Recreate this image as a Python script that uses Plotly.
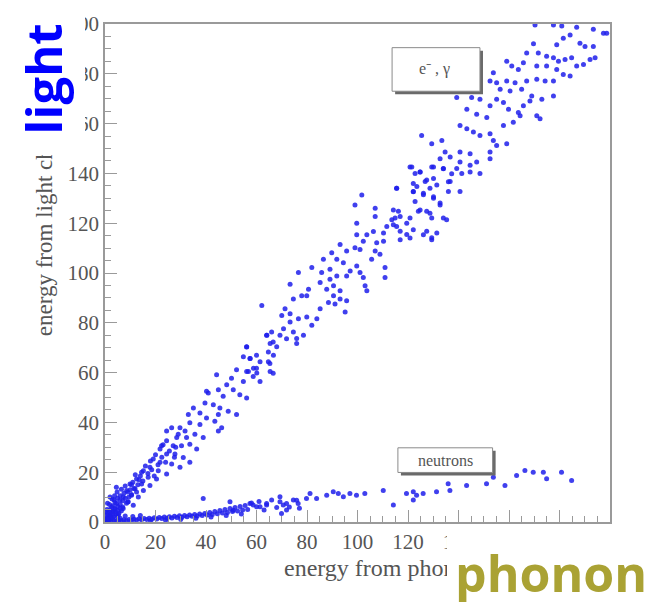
import plotly.graph_objects as go

# (phonon energy, light energy) pairs for the electron / gamma band
egamma_points = [
    # upper part of the band
    (170.3, 199.6), (177.6, 199.6), (180.9, 199.2), (186.8, 198.7), (193.4, 197.9), (197.4, 196.3),
    (198.7, 196.3), (184.2, 195.6), (181.5, 194.3), (178.9, 191.7), (188.1, 192.3), (190.1, 191.0),
    (193.4, 191.0), (169.7, 192.1), (167.0, 188.4), (171.6, 188.4), (174.9, 187.0), (177.6, 186.4),
    (179.6, 185.0), (182.2, 185.7), (184.8, 186.4), (189.5, 183.7), (192.1, 185.7), (194.1, 186.4),
    (159.1, 185.0), (161.1, 183.1), (163.7, 181.7), (165.7, 184.4), (171.0, 183.1), (174.9, 183.1),
    (178.9, 181.7), (181.5, 179.7), (184.2, 179.1), (186.8, 183.1), (153.8, 180.4), (152.5, 177.1),
    (155.1, 176.4), (159.1, 177.1), (162.4, 176.4), (167.0, 177.1), (171.0, 177.8), (174.3, 177.1),
    (177.6, 177.1), (156.5, 173.8), (160.4, 173.1), (165.0, 173.8), (169.0, 171.1), (173.0, 169.8),
    (177.6, 171.1), (139.3, 170.5), (145.2, 170.5), (148.5, 169.8), (155.1, 169.8), (157.8, 168.5),
    (152.5, 167.2), (159.8, 165.8), (163.7, 164.5), (165.7, 167.2), (168.3, 169.1), (171.0, 163.2),
    (172.3, 161.9), (143.3, 165.8), (147.2, 163.8), (151.2, 162.5), (157.8, 159.2), (161.7, 160.5),
    (164.4, 163.2), (140.6, 159.2), (143.3, 157.9), (145.9, 156.6), (148.5, 155.2), (152.5, 155.9),
    (153.8, 153.2), (155.1, 151.2), (159.1, 151.9), (125.4, 155.2), (129.4, 151.9), (133.4, 153.2),
    (134.7, 148.6), (132.7, 145.9), (136.7, 146.6), (140.6, 148.6), (140.6, 144.6), (144.6, 147.9),
    (144.6, 143.3), (147.2, 144.6), (148.5, 140.0), (152.5, 148.6), (152.5, 145.9), (139.3, 142.0),
    (141.3, 140.0), (144.6, 140.6), (120.8, 142.6), (122.8, 140.0), (124.8, 140.6), (129.4, 142.6),
    (134.0, 142.0), (130.1, 138.0), (136.7, 136.7), (126.8, 136.7), (128.7, 134.0), (122.1, 132.7),
    (123.5, 134.7), (126.1, 131.4), (130.1, 130.0), (132.7, 128.1), (122.8, 128.7), (124.1, 124.8),
    (127.4, 124.8), (129.4, 122.1), (134.0, 122.1), (120.8, 122.1), (116.2, 124.8), (114.9, 122.1),
    (114.2, 119.4), (116.9, 116.8), (119.5, 115.5), (127.4, 116.8), (129.4, 114.2), (136.0, 132.7),
    (140.6, 132.7), (115.5, 134.0),
    # middle part of the band
    (121.5, 142.6), (124.8, 140.6), (130.1, 142.6), (134.0, 141.9), (137.3, 139.9), (122.1, 135.9),
    (127.4, 137.3), (131.4, 135.3), (136.0, 136.6), (115.5, 134.0), (122.1, 132.6), (126.1, 132.0),
    (130.1, 130.6), (132.7, 127.3), (135.3, 121.4), (124.8, 125.3), (128.7, 124.0), (114.2, 125.3),
    (116.9, 122.7), (113.6, 121.4), (119.5, 120.0), (115.5, 118.7), (111.6, 118.7), (122.1, 117.4),
    (126.1, 115.4), (129.4, 113.4), (131.4, 116.1), (120.8, 114.1), (116.9, 113.4), (110.3, 116.1),
    (106.3, 116.7), (103.7, 115.4), (102.3, 112.8), (107.6, 112.1), (110.3, 112.8), (107.0, 108.8),
    (105.6, 105.5), (108.9, 107.5), (99.7, 120.0), (101.7, 131.3), (99.0, 127.3), (107.0, 126.0),
    (107.0, 122.7), (99.7, 115.4), (93.1, 111.4), (95.7, 108.8), (99.0, 110.1), (101.0, 109.4),
    (89.8, 108.1), (91.8, 105.5), (86.5, 105.5), (89.1, 101.5), (94.4, 104.1), (97.1, 100.8),
    (99.7, 102.8), (101.0, 100.2), (102.3, 98.2), (103.0, 94.9), (103.7, 92.9), (110.9, 102.2),
    (110.9, 98.2), (85.8, 100.2), (81.9, 102.2), (89.1, 97.5), (91.8, 98.8), (95.7, 98.8),
    (76.6, 100.2), (73.3, 95.5), (80.6, 93.5), (85.2, 96.2), (87.8, 93.5), (90.5, 94.9),
    (93.1, 92.9), (90.5, 90.9), (93.1, 89.6), (91.1, 87.6), (88.5, 88.2), (85.2, 85.6),
    (95.1, 84.3), (95.7, 88.9), (79.9, 90.9), (77.9, 90.9), (74.6, 89.6), (71.3, 85.6),
    (70.0, 82.9), (73.3, 83.6), (76.6, 81.6), (79.9, 82.3), (81.9, 79.0), (83.9, 81.6),
    (73.3, 80.3), (70.7, 77.6), (74.6, 76.3), (78.6, 75.0), (75.9, 73.7), (69.3, 75.0),
    (66.0, 76.3), (64.1, 75.0), (65.4, 71.7), (68.0, 70.4), (66.7, 67.0), (64.7, 64.4),
    (61.4, 64.4), (57.5, 65.7), (56.1, 70.4), (58.8, 61.7), (56.8, 60.4), (60.1, 59.8),
    (65.4, 60.4), (62.1, 86.9),
    # lower part of the band
    (64.0, 75.0), (66.6, 72.3), (71.9, 73.6), (75.9, 71.7), (56.1, 70.3), (60.0, 67.0),
    (64.7, 68.3), (54.8, 66.4), (57.4, 65.7), (65.3, 63.7), (66.6, 59.7), (60.0, 61.7),
    (56.1, 60.4), (52.1, 61.1), (58.7, 58.4), (61.4, 56.4), (54.8, 56.4), (50.1, 57.7),
    (44.2, 59.1), (48.2, 55.1), (50.8, 53.1), (53.4, 51.1), (56.1, 49.8), (46.8, 50.5),
    (44.9, 53.1), (40.9, 51.8), (39.6, 47.8), (42.9, 47.1), (45.5, 45.8), (48.8, 44.5),
    (52.1, 43.2), (37.6, 43.8), (35.0, 45.8), (40.2, 41.8), (43.5, 40.5), (46.2, 37.9),
    (37.6, 39.2), (33.6, 39.9), (31.7, 36.5), (29.7, 37.9), (26.4, 37.9), (28.4, 33.9),
    (32.3, 33.9), (35.6, 35.2), (38.9, 33.9), (44.9, 36.5), (24.4, 32.6), (27.0, 30.6),
    (30.3, 30.6), (33.6, 31.2), (36.3, 29.3), (21.8, 29.3), (24.4, 27.3), (27.7, 27.3),
    (31.0, 25.9), (33.6, 24.0), (29.7, 22.0), (26.4, 23.3), (19.1, 25.3), (21.8, 24.0),
    (17.8, 22.0), (21.1, 20.6), (24.4, 19.3), (15.2, 20.6), (17.1, 18.0), (20.4, 17.3),
    (12.5, 17.3), (14.5, 15.3), (17.8, 14.7), (9.9, 15.3), (11.9, 13.4), (15.2, 12.7),
    (8.6, 12.7), (10.5, 10.7), (13.2, 10.0), (7.2, 10.0), (5.9, 8.7), (9.2, 8.1),
    (11.2, 6.7), (4.6, 7.4), (3.9, 5.4), (7.2, 5.4), (3.3, 4.1), (2.0, 2.8),
    (5.3, 2.8), (1.3, 1.4), (0.5, 0.5), (0.3, 4.1), (29.0, 35.2), (24.4, 36.5),
    (22.4, 30.6), (40.2, 52.5), (33.0, 43.2), (44.9, 43.2),
    # dense cluster close to the origin
    (0.5, 1.0), (1.0, 2.0), (1.5, 0.8), (2.0, 3.0), (2.5, 1.5), (3.0, 4.2), (3.5, 2.2), (4.0, 5.0),
    (4.5, 3.0), (5.0, 6.2), (5.5, 3.5), (6.0, 7.0), (6.5, 4.5), (7.0, 8.5), (1.0, 3.5), (2.0, 5.0),
    (3.0, 6.5), (4.0, 7.8), (0.6, 2.6), (1.6, 4.2), (2.6, 6.0), (3.6, 8.8), (5.0, 9.5), (6.0, 10.5),
    (7.5, 11.5), (8.0, 9.5), (9.0, 12.0), (0.3, 0.3), (1.2, 1.2), (2.2, 2.2), (3.2, 3.2), (4.2, 4.0),
    (5.2, 4.6), (0.8, 5.0), (1.8, 7.0), (2.8, 9.2), (3.8, 10.5), (4.8, 12.0), (6.5, 13.2), (8.0, 14.5),
    (10.0, 13.0), (11.0, 16.0), (12.0, 19.0), (14.0, 18.5), (16.0, 22.5), (13.0, 15.0), (8.5, 7.5),
    (9.5, 10.0), (10.5, 11.0), (11.5, 13.5), (12.5, 12.0), (7.0, 6.0), (6.0, 5.5), (9.0, 8.0),
    (13.5, 17.0), (15.0, 16.5), (17.0, 19.5), (18.5, 21.0), (19.5, 18.5), (21.0, 23.0), (22.5, 26.0),
    (24.0, 24.0), (25.5, 28.5), (27.5, 26.0), (20.0, 27.0), (23.0, 31.0), (28.0, 30.0), (18.0, 24.5),
    (14.5, 20.0), (10.5, 15.0), (2.0, 10.0), (4.5, 14.0), (1.0, 7.5),
]

# (phonon energy, light energy) pairs for the neutron band
neutron_points = [
    (58.7, 6.8), (61.4, 6.1), (64.0, 6.8), (69.3, 8.1), (70.6, 6.8), (74.6, 8.8), (76.5, 7.4),
    (79.8, 9.4), (83.8, 9.4), (87.8, 10.7), (90.4, 12.1), (92.4, 11.4), (94.4, 10.1), (97.0, 11.4),
    (99.6, 10.7), (102.9, 11.4), (110.2, 12.7), (114.2, 6.8), (119.4, 11.4), (122.1, 12.1),
    (122.1, 8.8), (123.4, 10.7), (131.3, 12.1), (135.9, 15.4), (136.6, 12.7), (143.2, 14.7),
    (151.1, 15.4), (153.8, 18.0), (158.4, 14.7), (163.0, 18.7), (166.3, 20.7), (169.6, 20.0),
    (173.6, 20.0), (174.9, 17.4), (180.8, 20.0), (184.8, 16.7), (126.0, 11.4), (81.2, 11.4),
    (71.9, 4.8),
    (38.9, 9.4), (49.5, 8.1), (50.8, 4.7), (57.4, 7.4), (60.0, 6.1), (64.0, 7.4), (69.3, 10.1),
    (71.9, 7.4), (69.9, 3.4), (75.9, 8.7),
    (0.5, 0.2), (1.5, 0.4), (2.5, 0.3), (3.5, 0.6), (4.5, 0.4), (5.5, 0.7), (6.5, 0.5), (7.5, 0.9),
    (8.5, 0.6), (9.5, 1.0), (10.5, 0.7), (11.5, 1.1), (12.5, 0.8), (13.5, 1.3), (14.5, 0.9),
    (15.5, 1.4), (16.5, 1.0), (17.5, 1.5), (18.5, 1.1), (19.5, 1.7), (20.5, 1.2), (21.5, 1.8),
    (22.5, 1.4), (23.5, 2.0), (24.5, 1.5), (25.5, 2.1), (26.5, 1.6), (27.5, 2.3), (28.5, 1.8),
    (29.5, 2.5), (30.5, 1.9), (31.5, 2.6), (32.5, 2.1), (33.5, 2.8), (34.5, 2.3), (35.5, 3.0),
    (36.5, 2.4), (37.5, 3.2), (38.5, 2.6), (39.5, 3.4), (40.5, 2.8), (41.5, 3.8), (42.5, 3.0),
    (43.5, 4.2), (44.5, 3.3), (45.5, 4.6), (46.5, 3.6), (47.5, 5.0), (48.5, 3.8), (49.5, 5.4),
    (50.5, 4.2), (51.5, 5.8), (52.5, 4.4), (53.5, 6.2), (54.5, 4.8), (55.5, 6.6), (56.5, 5.0),
    (58.0, 7.6), (61.0, 8.2), (63.0, 4.8), (66.0, 8.8), (68.0, 5.8), (73.0, 6.0), (77.0, 5.5),
    (5.0, 2.0), (8.0, 2.4), (11.0, 2.2), (3.0, 1.6), (14.0, 2.6), (18.0, 0.5), (24.0, 0.7),
    (30.0, 1.0), (36.0, 1.5), (42.0, 2.0), (48.0, 2.6), (54.0, 3.2), (1.0, 1.2), (6.0, 1.5),
]

tick_values = [0, 20, 40, 60, 80, 100, 120, 140, 160, 180, 200]

egamma_x, egamma_y = zip(*egamma_points)
neutron_x, neutron_y = zip(*neutron_points)

MARK = "rgb(30,30,235)"
AXIS = "#9a9a9a"
TEXT = "#555555"
SERIF = "Liberation Serif, Times New Roman, serif"

fig = go.Figure()
for xs, ys in [(egamma_x, egamma_y), (neutron_x, neutron_y)]:
    fig.add_trace(go.Scatter(
        x=list(xs), y=list(ys), mode="markers",
        marker=dict(color=MARK, size=5, opacity=0.85, line=dict(width=0)),
        showlegend=False, hoverinfo="skip",
    ))

axis_common = dict(
    range=[0, 200], tickvals=tick_values, showgrid=False, zeroline=False,
    showline=True, linecolor=AXIS, linewidth=1.5, mirror=True,
    ticks="inside", ticklen=12, tickcolor=AXIS, tickwidth=1,
    minor=dict(dtick=5, ticks="inside", ticklen=6, tickcolor=AXIS, tickwidth=1),
    tickfont=dict(family=SERIF, size=21, color=TEXT),
)

fig.update_layout(
    width=655, height=602,
    margin=dict(l=105, r=45, t=19, b=80),
    paper_bgcolor="white", plot_bgcolor="white",
    xaxis=axis_common, yaxis=axis_common,
)

# label boxes with a drop shadow
boxes = [
    dict(x0=113.7, x1=148.5, y0=173.0, y1=190.5, label="e\u207b , \u03b3", lx=130.5, ly=181.8),
    dict(x0=116.0, x1=153.5, y0=19.9, y1=29.8, label="neutrons", lx=134.8, ly=24.8),
]
for b in boxes:
    fig.add_shape(type="rect", xref="x", yref="y", x0=b["x0"] + 1.2, x1=b["x1"] + 1.2,
                  y0=b["y0"] - 1.2, y1=b["y1"] - 1.2, fillcolor="#6a6a6a",
                  line=dict(width=0), layer="above")
    fig.add_shape(type="rect", xref="x", yref="y", x0=b["x0"], x1=b["x1"],
                  y0=b["y0"], y1=b["y1"], fillcolor="white",
                  line=dict(color="#8a8a8a", width=1), layer="above")
    fig.add_annotation(x=b["lx"], y=b["ly"], xref="x", yref="y", text=b["label"],
                       showarrow=False, font=dict(family=SERIF, size=16, color=TEXT))

# axis titles
fig.add_annotation(text="energy from phonon channel [keV]", xref="paper", yref="paper",
                   x=(282 - 105) / 505, y=-0.0915, xanchor="left", yanchor="middle",
                   showarrow=False, font=dict(family=SERIF, size=24, color=TEXT))
fig.add_annotation(text="energy from light channel [keV]", xref="paper", yref="paper",
                   x=-0.121, y=(522 - 336) / 503, xanchor="center", yanchor="bottom",
                   textangle=-90, showarrow=False,
                   font=dict(family=SERIF, size=23, color=TEXT))

# white panels carrying the large channel labels
fig.add_annotation(text=" ", xref="paper", yref="paper", x=-105 / 505, y=522 / 503,
                   xanchor="left", yanchor="top", width=85, height=150,
                   bgcolor="white", borderpad=0, borderwidth=0, showarrow=False)
fig.add_annotation(text=" ", xref="paper", yref="paper", x=(447 - 105) / 505,
                   y=(522 - 527) / 503, xanchor="left", yanchor="top", width=208, height=75,
                   bgcolor="white", borderpad=0, borderwidth=0, showarrow=False)

fig.add_annotation(text="<b>light</b>", xref="paper", yref="paper",
                   x=(43 - 105) / 505, y=(522 - 75) / 503, xanchor="center", yanchor="middle",
                   textangle=-90, showarrow=False,
                   font=dict(family="Open Sans, sans-serif", size=49, color="#0000ff"))
fig.add_annotation(text="<b>phonon</b>", xref="paper", yref="paper",
                   x=(551 - 105) / 505, y=(522 - 574) / 503, xanchor="center", yanchor="middle",
                   showarrow=False,
                   font=dict(family="Open Sans, sans-serif", size=50, color="rgb(170,162,52)"))

fig.write_html("out.html")
